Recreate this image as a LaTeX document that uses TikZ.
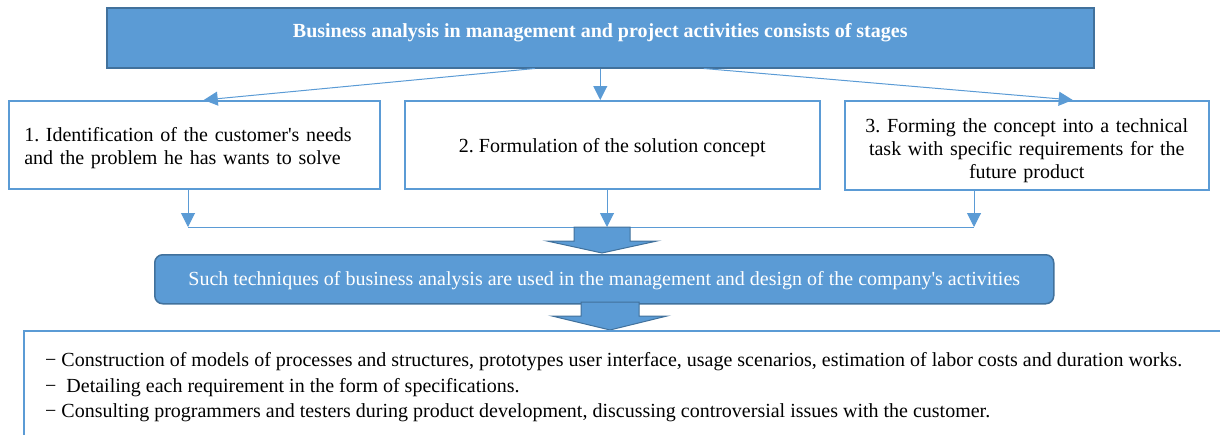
\documentclass[tikz,border=0pt]{standalone}
\usepackage{fontspec}
\setmainfont{Liberation Serif}
\usetikzlibrary{arrows.meta}
\definecolor{accent}{HTML}{5B9BD5}
\definecolor{accentdark}{HTML}{41719C}
\frenchspacing
\begin{document}
\begin{tikzpicture}[x=1pt,y=-1pt,
  txt/.style={font=\fontsize{20}{23}\selectfont, text=black, inner sep=0pt},
  bluebox/.style={draw=accentdark, fill=accent, line width=1.5pt, inner sep=0pt, text=white},
  stagebox/.style={draw=accent, line width=1.5pt, fill=white, inner sep=0pt,
    anchor=north west, font=\fontsize{20}{23}\selectfont},
  conn/.style={draw=accent, line width=1pt, -{Triangle[length=14pt,width=14pt]}},
  joinline/.style={draw=accent, line width=1pt},
  blockarrow/.style={draw=accentdark, fill=accent, line width=1pt, line join=miter}
]
\useasboundingbox (0,0) rectangle (1220,434);
\clip (0,0) rectangle (1220,434);

% heading
\node[bluebox, anchor=north west, minimum width=987pt, minimum height=60pt,
  font=\fontsize{20}{23}\selectfont\bfseries, text height=13pt, text depth=14pt]
  (head) at (106,7) {Business analysis in management and project activities consists of stages};

% the three stages (the struts push the text slightly below the middle)
\node[stagebox, minimum width=371pt, minimum height=88pt, text width=340pt, align=left]
  (b1) at (8,100) {\rule{0pt}{20pt}1. Identification of the customer\textquotesingle s needs\\and the problem he has wants to solve};
\node[stagebox, minimum width=415pt, minimum height=88pt, align=center]
  (b2) at (404,100) {\rule{0pt}{20pt}2. Formulation of the solution concept};
\node[stagebox, minimum width=364pt, minimum height=89pt, text width=344pt, align=center]
  (b3) at (844,100) {\rule{0pt}{24pt}3. Forming the concept into a technical\\task with specific requirements for the\\future product};

% arrows from the heading to the stages
\draw[conn] ([xshift=-65.5pt]head.south) -- ([xshift=9.5pt]b1.north);
\draw[conn] (head.south) -- (head.south |- b2.north);
\draw[conn] ([xshift=103.5pt]head.south) -- ([xshift=46pt]b3.north);

% stages joined below
\coordinate (j1) at (188,227);
\coordinate (j2) at (607,227);
\coordinate (j3) at (974,227);
\draw[conn] (b1.south -| j1) -- (j1);
\draw[conn] (b2.south -| j2) -- (j2);
\draw[conn] (b3.south -| j3) -- (j3);
\draw[joinline] (j1) -- (j3);

% wide arrow into the techniques box
\draw[blockarrow] (574,227) -- (630,227) -- (630,241) -- (657,241) -- (602,253)
  -- (547,241) -- (574,241) -- cycle;

\node[bluebox, anchor=north west, minimum width=899pt, minimum height=49pt,
  rounded corners=8pt, font=\fontsize{20}{23}\selectfont]
  (tech) at (154,254) {\rule{0pt}{17pt}Such techniques of business analysis are used in the management and design of the company\textquotesingle s activities};

% wide arrow into the list
\draw[blockarrow] (581,302) -- (639,302) -- (639,316) -- (667,316) -- (610,330)
  -- (552,316) -- (581,316) -- cycle;

% list of techniques
\node[draw=accent, line width=1.5pt, anchor=north west, minimum width=1250pt,
  minimum height=150pt] (list) at (23,330) {};
\node[txt, anchor=base west] (l1) at (45,366) {− Construction of models of processes and structures, prototypes user interface, usage scenarios, estimation of labor costs and duration works.};
\node[txt, anchor=base west] (l2) at (45,392) {− \ Detailing each requirement in the form of specifications.};
\node[txt, anchor=base west] (l3) at (45,417) {− Consulting programmers and testers during product development, discussing controversial issues with the customer.};
\end{tikzpicture}
\end{document}
